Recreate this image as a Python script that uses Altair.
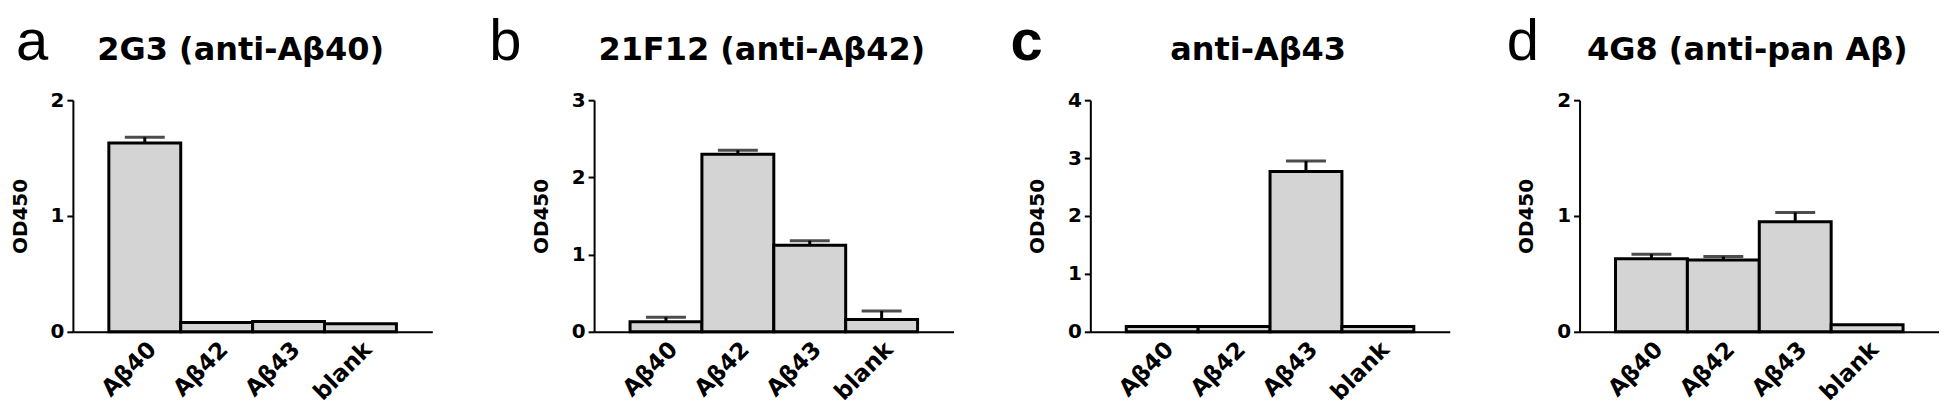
import altair as alt
import pandas as pd

# ---- data ----
categories = ["Aβ40", "Aβ42", "Aβ43", "blank"]
panel_letters = ["a", "b", "c", "d"]
panel_titles = ["2G3 (anti-Aβ40)", "21F12 (anti-Aβ42)", "anti-Aβ43", "4G8 (anti-pan Aβ)"]
y_max = [2, 3, 4, 2]

od_a = [1.63, 0.08, 0.09, 0.07]
err_a = [0.05, 0.0, 0.0, 0.0]
od_b = [0.13, 2.30, 1.12, 0.16]
err_b = [0.06, 0.05, 0.06, 0.11]
od_c = [0.09, 0.09, 2.77, 0.09]
err_c = [0.0, 0.0, 0.18, 0.0]
od_d = [0.63, 0.62, 0.95, 0.06]
err_d = [0.04, 0.03, 0.08, 0.0]

# ---- layout / style ----
W = 360
H = 232
letter_dx = [-57, -105, -80, -73]
letter_weight = ["normal", "normal", "bold", "normal"]
FONT = "DejaVu Sans"
TOP = -40  # baseline of panel letter / title, relative to plot top


def panel(i, od, err):
    df = pd.DataFrame({"sample": categories, "od": od, "err": err})
    df["upper"] = df["od"] + df["err"]
    base = alt.Chart(df)

    x_enc = alt.X(
        "sample:N",
        sort=categories,
        scale=alt.Scale(paddingInner=0, paddingOuter=0.5),
        axis=alt.Axis(title=None, labelAngle=-45, ticks=False, labelPadding=6,
                      labelFontSize=23),
    )
    yscale = alt.Scale(domain=[0, y_max[i]], nice=False)
    yaxis = alt.Axis(
        title="OD450",
        values=list(range(y_max[i] + 1)),
        tickCount=10,
        labelExpr="format(datum.value, 'd')",
        labelOverlap=False,
        titlePadding=20,
    )

    bars = base.mark_bar(fill="#d4d4d4", stroke="black", strokeWidth=3).encode(
        x=x_enc, y=alt.Y("od:Q", scale=yscale, axis=yaxis)
    )
    errs = base.transform_filter("datum.err > 0")
    rule = errs.mark_rule(color="black", strokeWidth=3).encode(
        x=x_enc, y=alt.Y("od:Q", scale=yscale, axis=yaxis), y2="upper:Q"
    )
    cap = errs.mark_tick(color="black", size=40, thickness=3).encode(
        x=x_enc, y=alt.Y("upper:Q", scale=yscale, axis=yaxis)
    )

    lab = pd.DataFrame({"letter": [panel_letters[i]], "title": [panel_titles[i]]})
    letter = alt.Chart(lab).mark_text(
        font="Liberation Sans", fontSize=58, fontWeight=letter_weight[i],
        align="left", baseline="alphabetic", color="black",
    ).encode(text="letter:N", x=alt.value(letter_dx[i]), y=alt.value(TOP))
    title = alt.Chart(lab).mark_text(
        font=FONT, fontSize=32, fontWeight="bold",
        align="center", baseline="alphabetic", color="black",
    ).encode(text="title:N", x=alt.value(W / 2 - 12), y=alt.value(TOP))

    return alt.layer(rule, cap, bars, letter, title).properties(width=W, height=H)


chart = (
    alt.hconcat(
        panel(0, od_a, err_a),
        panel(1, od_b, err_b),
        panel(2, od_c, err_c),
        panel(3, od_d, err_d),
        spacing=57,
    )
    .properties(padding={"left": 2, "top": 6, "right": 0, "bottom": 0})
    .configure_view(stroke=None)
    .configure_axis(
        grid=False,
        domainColor="black",
        domainWidth=2,
        tickColor="black",
        tickWidth=2,
        tickSize=6,
        labelPadding=3,
        labelFont=FONT,
        labelFontSize=20,
        labelFontWeight="bold",
        labelColor="black",
        titleFont=FONT,
        titleFontSize=20,
        titleFontWeight="bold",
        titleColor="black",
    )
)

chart.save("out.html", embed_options={"renderer": "svg", "actions": False})
